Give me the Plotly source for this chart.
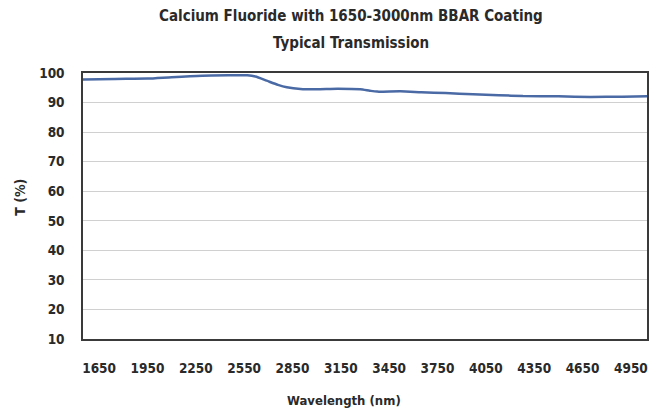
import plotly.graph_objects as go

wavelength = [1550, 1750, 1950, 2100, 2290, 2450, 2570, 2620, 2690, 2760, 2815, 2900,
              3000, 3130, 3270, 3330, 3375, 3520, 3650, 3800, 3970, 4130, 4280, 4500,
              4700, 4900, 5050]
transmission = [97.8, 98.0, 98.1, 98.6, 99.1, 99.2, 99.2, 98.8, 97.4, 96.0, 95.2, 94.6,
                94.5, 94.7, 94.5, 94.0, 93.7, 93.8, 93.5, 93.2, 92.8, 92.5, 92.2, 92.1,
                91.9, 92.0, 92.1]
x_ticks = [1650, 1950, 2250, 2550, 2850, 3150, 3450, 3750, 4050, 4350, 4650, 4950]
y_ticks = [10, 20, 30, 40, 50, 60, 70, 80, 90, 100]
title_lines = ["Calcium Fluoride with 1650-3000nm BBAR Coating", "Typical Transmission"]
x_title = "Wavelength (nm)"
y_title = "T (%)"

FONT = "DejaVu Sans Condensed, DejaVu Sans"
TXT = "#2a2a2a"


def f(size):
    return dict(family=FONT, size=size, color=TXT, weight="bold")


def c(s):
    return '<span style="font-stretch:condensed">' + s + '</span>'


fig = go.Figure()
fig.add_trace(go.Scatter(
    x=wavelength, y=transmission, mode="lines",
    line=dict(color="#4a6aa5", width=2.5, shape="spline", smoothing=0.6),
    showlegend=False, hoverinfo="skip"))

fig.update_layout(
    width=653, height=417,
    margin=dict(l=83, r=6, t=73, b=78, autoexpand=False),
    paper_bgcolor="white", plot_bgcolor="white",
    font=f(13),
    xaxis=dict(range=[1550, 5050], tickvals=x_ticks, ticktext=[c(str(v)) for v in x_ticks],
               showgrid=False, zeroline=False, showline=True, linecolor="#3a3a3a",
               linewidth=1.5, mirror=True, ticks="", ticklabelstandoff=16, automargin=False,
               tickfont=f(13.5)),
    yaxis=dict(range=[10, 100], tickvals=y_ticks, ticktext=[c(str(v)) for v in y_ticks],
               showgrid=True, gridcolor="#d0d0d0", gridwidth=1, zeroline=False,
               showline=True, linecolor="#3a3a3a", linewidth=1.5, mirror=True,
               ticks="", ticklabelstandoff=14, automargin=False,
               tickfont=f(13.5)),
)

for text, ypos in zip(title_lines, [1.2147, 1.113]):
    fig.add_annotation(text=c(text), xref="paper", yref="paper",
                       x=0.475, y=ypos, xanchor="center", yanchor="middle",
                       showarrow=False, font=f(15))

fig.add_annotation(text=c(x_title), xref="paper", yref="paper", x=0.463, y=-0.2298,
                   xanchor="center", yanchor="middle", showarrow=False, font=f(13))
fig.add_annotation(text=c(y_title), xref="paper", yref="paper", x=-0.1117, y=0.531,
                   xanchor="center", yanchor="middle", showarrow=False, font=f(14),
                   textangle=-90)

fig.write_html("out.html", config={"displayModeBar": False},
               post_script="document.body.style.margin='0';")
